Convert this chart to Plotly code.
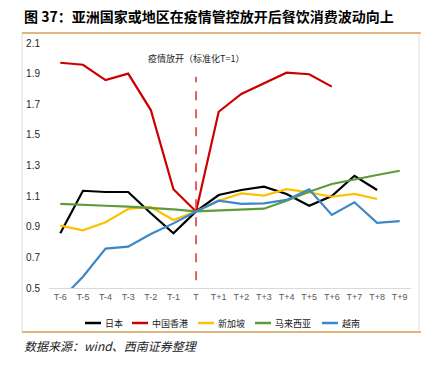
import plotly.graph_objects as go

categories = ["T-6", "T-5", "T-4", "T-3", "T-2", "T-1", "T", "T+1", "T+2",
              "T+3", "T+4", "T+5", "T+6", "T+7", "T+8", "T+9"]
japan = [0.857, 1.135, 1.127, 1.127, 0.988, 0.857, 1.0, 1.107, 1.14, 1.162,
         1.114, 1.037, 1.101, 1.233, 1.14, None]
hongkong = [1.971, 1.958, 1.858, 1.90, 1.662, 1.145, 1.0, 1.651, 1.767, 1.837,
            1.906, 1.896, 1.815, None, None, None]
singapore = [0.907, 0.877, 0.929, 1.016, 1.029, 0.944, 1.0, 1.07, 1.118, 1.103,
             1.145, 1.125, 1.096, 1.114, 1.081, None]
malaysia = [1.049, 1.045, 1.037, 1.031, 1.024, 1.014, 1.0, 1.005, 1.011, 1.018,
            1.07, 1.129, 1.179, 1.21, 1.238, 1.266]
vietnam = [0.42, 0.574, 0.757, 0.770, 0.853, 0.922, 1.0, 1.07, 1.049, 1.053,
           1.075, 1.145, 0.977, 1.060, 0.926, 0.937]

series_names = ["日本", "中国香港", "新加坡", "马来西亚", "越南"]
series_values = [japan, hongkong, singapore, malaysia, vietnam]
series_colors = ["#000000", "#CC0000", "#FFC000", "#5E9B3C", "#3C87C8"]

CJK = "Noto Sans CJK SC"
W, H = 427, 365
ML, MR, MT, MB = 49, 16, 43, 77
PW, PH = W - ML - MR, H - MT - MB


def px_x(px):
    return (px - ML) / PW


def px_y(py):
    return (H - MB - py) / PH


fig = go.Figure()
for name, vals, color in zip(series_names, series_values, series_colors):
    fig.add_trace(go.Scatter(x=categories, y=vals, name=name, mode="lines",
                             line=dict(color=color, width=2.2),
                             connectgaps=False, showlegend=False))

t_idx = categories.index("T")
fig.add_shape(type="line", xref="x", yref="y", x0=t_idx, x1=t_idx, y0=0.55, y1=1.88,
              line=dict(color="#E03A3A", width=1.6, dash="dash"))
fig.add_annotation(x=t_idx, y=2.0, xref="x", yref="y", text="疫情放开（标准化T=1）",
                   showarrow=False, font=dict(family=CJK, size=9, color="#1a1a1a"))

# frame
fig.add_shape(type="rect", xref="paper", yref="paper", x0=px_x(22), x1=px_x(419),
              y0=px_y(332), y1=px_y(33), line=dict(color="#DDDDDD", width=1), layer="below")
for yy in (33, 332):
    fig.add_shape(type="line", xref="paper", yref="paper", x0=px_x(22), x1=px_x(421),
                  y0=px_y(yy), y1=px_y(yy), line=dict(color="#D9A45A", width=1.5))

# legend (manual, compact like the original)
legend_line_x = [85, 132, 198, 255, 322]
legend_line_len = 16
legend_y = 323
for name, color, lx in zip(series_names, series_colors, legend_line_x):
    fig.add_shape(type="line", xref="paper", yref="paper", x0=px_x(lx),
                  x1=px_x(lx + legend_line_len), y0=px_y(legend_y), y1=px_y(legend_y),
                  line=dict(color=color, width=2.5))
    fig.add_annotation(xref="paper", yref="paper", x=px_x(lx + legend_line_len + 2),
                       y=px_y(legend_y), xanchor="left", yanchor="middle", showarrow=False,
                       text=name, font=dict(family=CJK, size=9, color="#1a1a1a"))

fig.add_annotation(xref="paper", yref="paper", x=px_x(22), y=px_y(16), xanchor="left",
                   yanchor="middle", showarrow=False,
                   text="<b>图 37：亚洲国家或地区在疫情管控放开后餐饮消费波动向上</b>",
                   font=dict(family=CJK, size=14, color="#000000"))
fig.add_annotation(xref="paper", yref="paper", x=px_x(22), y=px_y(345), xanchor="left",
                   yanchor="middle", showarrow=False,
                   text="<i>数据来源：wind、西南证券整理</i>",
                   font=dict(family=CJK, size=12, color="#222222"))

fig.update_layout(
    width=W, height=H,
    margin=dict(l=ML, r=MR, t=MT, b=MB),
    paper_bgcolor="white", plot_bgcolor="white",
    showlegend=False,
    xaxis=dict(type="category", showgrid=False, showline=True, linecolor="#D9D9D9",
               linewidth=1, ticks="", tickfont=dict(family="Liberation Sans", size=9,
                                                     color="#595959"),
               zeroline=False, range=[-0.5, len(categories) - 0.5]),
    yaxis=dict(range=[0.5, 2.1], dtick=0.2, tick0=0.5, tickformat=".1f", showgrid=False,
               showline=False, zeroline=False, ticks="", ticklabelstandoff=8,
               tickfont=dict(family="Liberation Sans", size=10, color="#262626")),
)

fig.write_html("out.html", config={"displayModeBar": False},
               post_script="document.body.style.margin='0px';")
